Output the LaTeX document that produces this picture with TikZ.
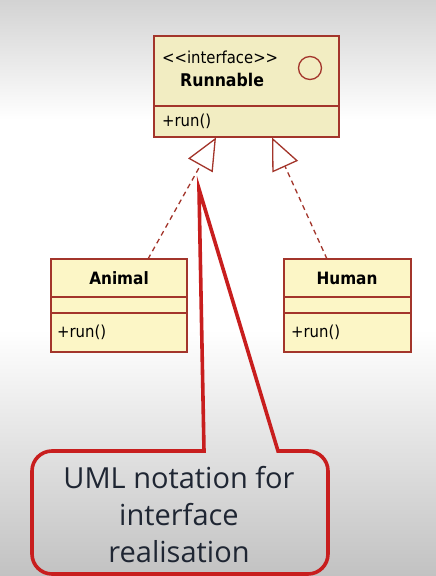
\documentclass[tikz,border=0pt]{standalone}
\usepackage{fontspec}
\setmainfont{DejaVu Sans Condensed}
\newfontfamily\callfont{Open Sans}
\usetikzlibrary{arrows.meta,calc}
\definecolor{bgtop}{HTML}{D3D3D3}
\definecolor{bgbot}{HTML}{C2C2C2}
\definecolor{umlborder}{HTML}{A3352B}
\definecolor{umlfill}{HTML}{FCF6C6}
\definecolor{umlfilltop}{HTML}{F2EDC2}
\definecolor{calloutred}{HTML}{C81E1E}
\definecolor{calltext}{HTML}{1F2633}
\tikzset{
  umlbox/.style={draw=umlborder, line width=1.4pt, rectangle, inner sep=0pt, outer sep=0pt, anchor=north west},
  umlline/.style={draw=umlborder, line width=1.4pt},
  umltext/.style={inner sep=0pt, text=black, font=\fontsize{16.5}{18}\selectfont},
  umlname/.style={inner sep=0pt, text=black, font=\bfseries\fontsize{17}{18}\selectfont},
  realize/.style={draw=umlborder, line width=1.3pt, dash pattern=on 5pt off 4pt,
    -{Triangle[fill=white, length=32pt, width=28pt]}},
  callout/.style={draw=calloutred, line width=3.6pt, line join=miter},
}
\begin{document}
\begin{tikzpicture}[x=1pt,y=-1pt]
\useasboundingbox (0,0) rectangle (436,576);
% background
\fill[top color=bgtop, bottom color=white] (0,0) rectangle (436,120);
\fill[white] (0,120) rectangle (436,330);
\fill[top color=white, bottom color=bgbot] (0,330) rectangle (436,576);

% Runnable
\node[umlbox, fill=umlfilltop, minimum width=185pt, minimum height=101pt] (runnable) at (154,36) {};
\draw[umlline] (154,106) -- (339,106);
\node[umltext, anchor=west] (rintf) at (162,57) {{<}{<}interface{>}{>}};
\node[umlname, font=\bfseries\fontsize{17.5}{18}\selectfont, anchor=west] (rname) at (180,80) {Runnable};
\node[draw=umlborder, circle, minimum size=23pt, inner sep=0pt, line width=1.3pt] (ricon) at (310,68) {};
\node[umltext, anchor=west] (rrun) at (162,121) {+run()};

% Animal
\node[umlbox, fill=umlfill, minimum width=136pt, minimum height=93pt] (animal) at (51,259) {};
\draw[umlline] (51,297) -- (187,297);
\draw[umlline] (51,313) -- (187,313);
\node[umlname] (aname) at (119,278) {Animal};
\node[umltext, anchor=west] (arun) at (57,332) {+run()};

% Human
\node[umlbox, fill=umlfill, minimum width=127pt, minimum height=93pt] (human) at (284,259) {};
\draw[umlline] (284,297) -- (411,297);
\draw[umlline] (284,313) -- (411,313);
\node[umlname] (hname) at (347,278) {Human};
\node[umltext, anchor=west] (hrun) at (291,332) {+run()};

% realisation connectors
\coordinate (a1) at (148,259);
\coordinate (r1) at (216,137.5);
\coordinate (h1) at (327,259);
\coordinate (r2) at (272,137.5);
\draw[realize] (a1) -- (r1);
\draw[realize] (h1) -- (r2);

% callout
\draw[callout] (199,189) -- (204,451) [rounded corners=20pt] -- (32,451) -- (32,574) -- (328,574) -- (328,451) [sharp corners] -- (278,451) -- cycle;
\node[font=\callfont\fontsize{29}{37}\selectfont, text=calltext, align=center, inner sep=0pt] (note) at (179,515) {UML notation for\\interface\\realisation};
\end{tikzpicture}
\end{document}
